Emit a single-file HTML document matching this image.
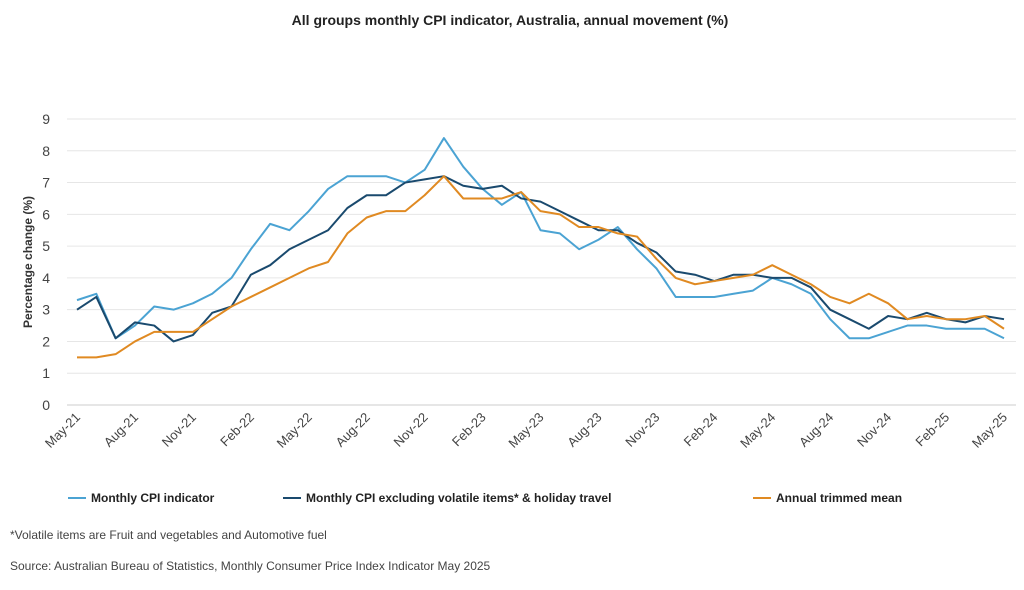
<!DOCTYPE html>
<html><head><meta charset="utf-8"><style>
body{margin:0;background:#fff;font-family:"Liberation Sans",sans-serif;}
#wrap{position:relative;width:1024px;height:590px;overflow:hidden}
</style></head><body>
<div id="wrap">
<svg id="chart" width="1024" height="590">
<text x="510" y="25" text-anchor="middle" font-size="14" font-weight="bold" fill="#222">All groups monthly CPI indicator, Australia, annual movement (%)</text>
<text transform="translate(32,262) rotate(-90)" text-anchor="middle" font-size="12" font-weight="bold" fill="#333">Percentage change (%)</text>
<g id="grid"></g><g id="xl"></g><g id="lines"></g>
<g>
<g><line x1="68" y1="498" x2="86" y2="498" stroke="#4ba3d3" stroke-width="2"/><text x="91" y="502" font-size="12" font-weight="bold" fill="#222">Monthly CPI indicator</text></g>
<g><line x1="283" y1="498" x2="301" y2="498" stroke="#1a4a6e" stroke-width="2"/><text x="306" y="502" font-size="12" font-weight="bold" fill="#222">Monthly CPI excluding volatile items* &amp; holiday travel</text></g>
<g><line x1="753" y1="498" x2="771" y2="498" stroke="#e08a22" stroke-width="2"/><text x="776" y="502" font-size="12" font-weight="bold" fill="#222">Annual trimmed mean</text></g>
</g>
<text x="10" y="539" font-size="12" fill="#444">*Volatile items are Fruit and vegetables and Automotive fuel</text>
<text x="10" y="570" font-size="12" fill="#444">Source: Australian Bureau of Statistics, Monthly Consumer Price Index Indicator May 2025</text>
</svg></div>
<script>
const months=["May-21","Jun-21","Jul-21","Aug-21","Sep-21","Oct-21","Nov-21","Dec-21","Jan-22","Feb-22","Mar-22","Apr-22","May-22","Jun-22","Jul-22","Aug-22","Sep-22","Oct-22","Nov-22","Dec-22","Jan-23","Feb-23","Mar-23","Apr-23","May-23","Jun-23","Jul-23","Aug-23","Sep-23","Oct-23","Nov-23","Dec-23","Jan-24","Feb-24","Mar-24","Apr-24","May-24","Jun-24","Jul-24","Aug-24","Sep-24","Oct-24","Nov-24","Dec-24","Jan-25","Feb-25","Mar-25","Apr-25","May-25"];
const cpi=[3.3,3.5,2.1,2.5,3.1,3.0,3.2,3.5,4.0,4.9,5.7,5.5,6.1,6.8,7.2,7.2,7.2,7.0,7.4,8.4,7.5,6.8,6.3,6.7,5.5,5.4,4.9,5.2,5.6,4.9,4.3,3.4,3.4,3.4,3.5,3.6,4.0,3.8,3.5,2.7,2.1,2.1,2.3,2.5,2.5,2.4,2.4,2.4,2.1];
const exclVolatile=[3.0,3.4,2.1,2.6,2.5,2.0,2.2,2.9,3.1,4.1,4.4,4.9,5.2,5.5,6.2,6.6,6.6,7.0,7.1,7.2,6.9,6.8,6.9,6.5,6.4,6.1,5.8,5.5,5.5,5.1,4.8,4.2,4.1,3.9,4.1,4.1,4.0,4.0,3.7,3.0,2.7,2.4,2.8,2.7,2.9,2.7,2.6,2.8,2.7];
const trimmedMean=[1.5,1.5,1.6,2.0,2.3,2.3,2.3,2.7,3.1,3.4,3.7,4.0,4.3,4.5,5.4,5.9,6.1,6.1,6.6,7.2,6.5,6.5,6.5,6.7,6.1,6.0,5.6,5.6,5.4,5.3,4.6,4.0,3.8,3.9,4.0,4.1,4.4,4.1,3.8,3.4,3.2,3.5,3.2,2.7,2.8,2.7,2.7,2.8,2.4];
const yTicks=[0,1,2,3,4,5,6,7,8,9];
const NS="http://www.w3.org/2000/svg";
const x=i=>77+i*(1004-77)/(months.length-1);
const y=v=>405-v*(405-119)/9;
function mk(t,a,p){const e=document.createElementNS(NS,t);for(const k in a)e.setAttribute(k,a[k]);p.appendChild(e);return e;}
const grid=document.getElementById('grid');
yTicks.forEach(v=>{
 const l=mk('line',{x1:67,x2:1016,y1:y(v),y2:y(v),stroke:v===0?'#ccc':'#e6e6e6','stroke-width':1},grid);
 
 
 const t=mk('text',{x:50,y:y(v)+5,'text-anchor':'end','font-size':14,fill:'#444'},grid);
 t.textContent=v;
 
 
});
const xl=document.getElementById('xl');
months.forEach((m,i)=>{
 if(i%3)return;
 const t=mk('text',{transform:`translate(${x(i)+4},${418}) rotate(-45)`,'text-anchor':'end','font-size':13,fill:'#444'},xl);
 t.textContent=m;
 
 
});
const lines=document.getElementById('lines');
[[cpi,'#4ba3d3','line-monthly-cpi'],[exclVolatile,'#1a4a6e','line-cpi-excl-volatile'],[trimmedMean,'#e08a22','line-trimmed-mean']].forEach(([d,c,n])=>{
 const p=mk('polyline',{points:d.map((v,i)=>x(i)+','+y(v)).join(' '),fill:'none',stroke:c,'stroke-width':2,'stroke-linejoin':'round'},lines);
 
 
});
</script>
</body></html>
